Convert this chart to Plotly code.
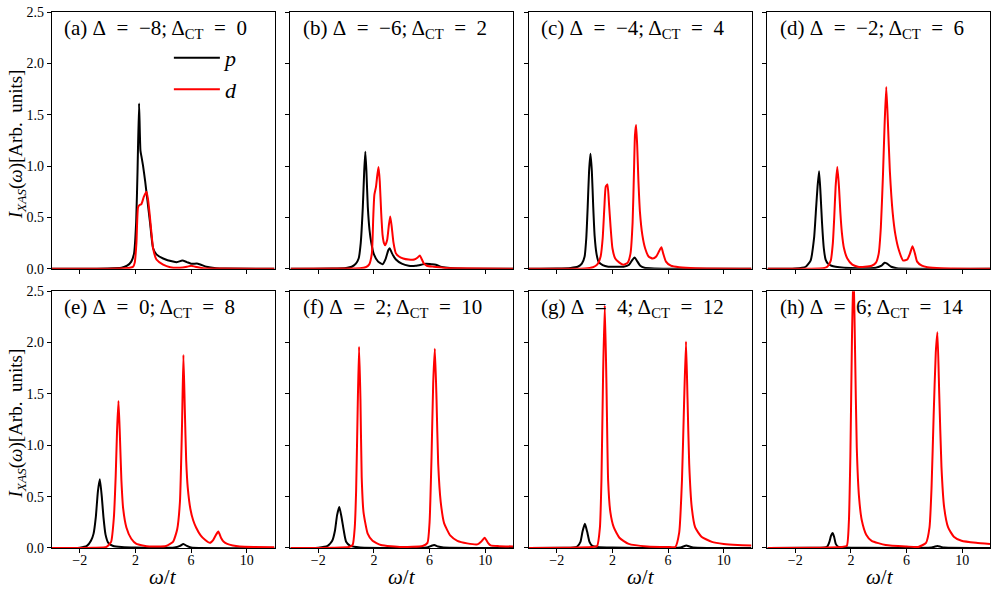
import plotly.graph_objects as go
from plotly.subplots import make_subplots

# ---------------- data ----------------
panel_letters = ["a", "b", "c", "d", "e", "f", "g", "h"]
delta_vals = [-8, -6, -4, -2, 0, 2, 4, 6]
dct_vals = [0, 2, 4, 6, 8, 10, 12, 14]
x_ticks = [-2, 2, 6, 10]
y_ticks = [0.0, 0.5, 1.0, 1.5, 2.0, 2.5]

# panel (a)
a_p_x = [-4, 0, 1.0, 1.4, 1.7, 1.9, 2.05, 2.15, 2.26, 2.36, 2.45, 2.55, 2.7, 2.85, 3.05, 3.27, 3.51, 3.99, 4.7, 5.0, 5.37, 5.7, 6.0, 6.5, 7.1, 7.8, 8.5, 12]
a_p_y = [0, 0.003, 0.01, 0.03, 0.07, 0.15, 0.45, 0.95, 1.61, 1.15, 1.08, 1.0, 0.85, 0.68, 0.45, 0.2, 0.14, 0.1, 0.07, 0.065, 0.08, 0.065, 0.05, 0.05, 0.02, 0.005, 0.002, 0]
a_d_x = [-4, 0, 1.2, 1.6, 1.83, 1.95, 2.07, 2.19, 2.3, 2.43, 2.6, 2.79, 2.9, 3.03, 3.15, 3.27, 3.51, 3.99, 4.5, 5.2, 5.7, 6.0, 6.3, 6.86, 8, 12]
a_d_y = [0, 0.001, 0.005, 0.01, 0.02, 0.06, 0.25, 0.6, 0.62, 0.63, 0.7, 0.75, 0.68, 0.52, 0.35, 0.2, 0.09, 0.04, 0.015, 0.01, 0.02, 0.03, 0.02, 0.005, 0.002, 0]

# panel (b)
b_p_x = [-4, -1, 0, 0.4, 0.7, 0.9, 1.05, 1.2, 1.3, 1.38, 1.46, 1.56, 1.68, 1.8, 2.0, 2.3, 2.62, 2.85, 3.03, 3.13, 3.3, 3.58, 4.0, 4.5, 5.0, 5.4, 5.73, 6.1, 6.45, 6.8, 7.3, 8, 12]
b_p_y = [0, 0.002, 0.008, 0.02, 0.05, 0.1, 0.25, 0.6, 0.95, 1.14, 0.95, 0.6, 0.38, 0.26, 0.14, 0.07, 0.045, 0.1, 0.18, 0.2, 0.15, 0.09, 0.05, 0.03, 0.03, 0.04, 0.05, 0.045, 0.04, 0.02, 0.01, 0.003, 0]
b_d_x = [-4, 0, 1.0, 1.4, 1.65, 1.85, 1.95, 2.03, 2.15, 2.25, 2.33, 2.42, 2.52, 2.62, 2.72, 2.81, 2.95, 3.07, 3.17, 3.27, 3.4, 3.58, 3.8, 4.1, 4.5, 4.9, 5.15, 5.3, 5.45, 5.6, 5.8, 6.3, 7, 8, 12]
b_d_y = [0, 0.002, 0.006, 0.015, 0.04, 0.15, 0.5, 0.72, 0.8, 0.92, 0.99, 0.85, 0.55, 0.33, 0.25, 0.23, 0.28, 0.42, 0.51, 0.42, 0.26, 0.15, 0.12, 0.1, 0.09, 0.09, 0.11, 0.13, 0.09, 0.05, 0.03, 0.02, 0.01, 0.005, 0]

# panel (c)
c_p_x = [-4, -2, -1, -0.5, -0.2, 0.0, 0.12, 0.22, 0.32, 0.42, 0.52, 0.62, 0.72, 0.85, 1.0, 1.3, 1.7, 2.2, 2.8, 3.2, 3.45, 3.6, 3.75, 4.0, 4.3, 5, 12]
c_p_y = [0, 0.002, 0.008, 0.02, 0.05, 0.12, 0.3, 0.6, 0.95, 1.12, 0.95, 0.6, 0.32, 0.15, 0.07, 0.035, 0.02, 0.02, 0.02, 0.04, 0.09, 0.11, 0.08, 0.03, 0.01, 0.003, 0]
c_d_x = [-4, 0, 0.6, 0.9, 1.15, 1.3, 1.42, 1.52, 1.64, 1.76, 1.86, 2.0, 2.2, 2.5, 2.8, 3.1, 3.3, 3.45, 3.55, 3.62, 3.7, 3.78, 3.87, 3.98, 4.15, 4.35, 4.6, 4.9, 5.15, 5.35, 5.52, 5.65, 5.85, 6.2, 6.8, 8, 12]
c_d_y = [0, 0.003, 0.015, 0.04, 0.12, 0.3, 0.6, 0.8, 0.82, 0.62, 0.42, 0.2, 0.1, 0.06, 0.04, 0.06, 0.15, 0.45, 0.95, 1.3, 1.4, 1.2, 0.85, 0.55, 0.33, 0.2, 0.12, 0.1, 0.12, 0.17, 0.21, 0.15, 0.07, 0.03, 0.015, 0.005, 0]

# panel (d)
d_p_x = [-4, -2, -1.25, -0.9, -0.65, -0.5, -0.4, -0.29, -0.18, -0.08, 0.05, 0.18, 0.35, 0.6, 0.9, 1.5, 2.5, 3.8, 4.2, 4.42, 4.6, 4.9, 5.3, 12]
d_p_y = [0, 0.003, 0.02, 0.08, 0.3, 0.6, 0.8, 0.95, 0.72, 0.45, 0.2, 0.09, 0.05, 0.03, 0.02, 0.01, 0.005, 0.01, 0.03, 0.06, 0.05, 0.02, 0.005, 0]
d_d_x = [-4, -1, 0, 0.3, 0.55, 0.7, 0.8, 0.9, 1.02, 1.14, 1.24, 1.35, 1.5, 1.74, 2.1, 2.5, 3.0, 3.5, 3.8, 4.0, 4.15, 4.3, 4.42, 4.54, 4.65, 4.8, 5.0, 5.2, 5.45, 5.76, 6.05, 6.25, 6.43, 6.6, 6.76, 7.1, 7.5, 8.5, 12]
d_d_y = [0, 0.001, 0.005, 0.02, 0.08, 0.25, 0.5, 0.8, 0.99, 0.8, 0.55, 0.35, 0.2, 0.1, 0.04, 0.02, 0.02, 0.03, 0.06, 0.15, 0.4, 0.9, 1.4, 1.77, 1.45, 0.95, 0.55, 0.33, 0.18, 0.08, 0.09, 0.15, 0.22, 0.15, 0.07, 0.03, 0.015, 0.005, 0]

# panel (e)
e_p_x = [-4, -2, -1.49, -1.2, -1.01, -0.85, -0.7, -0.56, -0.42, -0.3, -0.15, 0.05, 0.4, 1.0, 2.0, 4.8, 5.2, 5.45, 5.7, 6.0, 12]
e_p_y = [0, 0.003, 0.02, 0.07, 0.14, 0.3, 0.55, 0.67, 0.5, 0.3, 0.13, 0.05, 0.02, 0.01, 0.005, 0.005, 0.02, 0.04, 0.02, 0.005, 0]
e_d_x = [-4, -1, -0.08, 0.25, 0.45, 0.58, 0.68, 0.78, 0.88, 0.99, 1.12, 1.35, 1.7, 2.07, 3, 4.2, 4.7, 5.0, 5.2, 5.35, 5.45, 5.55, 5.65, 5.76, 5.95, 6.15, 6.36, 6.7, 7.0, 7.35, 7.6, 7.8, 7.96, 8.15, 8.35, 8.6, 9.0, 9.5, 10.5, 12]
e_d_y = [0, 0.002, 0.01, 0.06, 0.3, 0.7, 1.15, 1.43, 1.1, 0.66, 0.38, 0.2, 0.09, 0.04, 0.015, 0.02, 0.06, 0.18, 0.45, 1.2, 1.88, 1.35, 0.85, 0.59, 0.38, 0.27, 0.2, 0.12, 0.08, 0.05, 0.08, 0.13, 0.16, 0.1, 0.06, 0.04, 0.025, 0.015, 0.01, 0.008]

# panel (f)
f_p_x = [-4, -2, -1.33, -1.0, -0.8, -0.65, -0.49, -0.33, -0.17, 0.0, 0.3, 1, 5.8, 6.1, 6.33, 6.6, 7, 12]
f_p_y = [0, 0.003, 0.02, 0.07, 0.17, 0.32, 0.4, 0.3, 0.17, 0.06, 0.02, 0.005, 0.005, 0.02, 0.03, 0.015, 0.005, 0]
f_d_x = [-4, -1, 0.2, 0.47, 0.62, 0.72, 0.83, 0.93, 1.03, 1.12, 1.25, 1.55, 1.9, 2.5, 4, 5.5, 5.85, 6.0, 6.14, 6.26, 6.38, 6.5, 6.62, 6.8, 7.05, 7.5, 8.0, 8.7, 9.44, 9.7, 9.96, 10.2, 10.39, 11, 12]
f_d_y = [0, 0.003, 0.01, 0.03, 0.2, 0.56, 1.35, 1.96, 1.45, 0.69, 0.35, 0.14, 0.07, 0.03, 0.01, 0.02, 0.05, 0.25, 0.88, 1.6, 1.94, 1.45, 0.82, 0.45, 0.24, 0.12, 0.07, 0.045, 0.035, 0.06, 0.1, 0.05, 0.025, 0.018, 0.015]

# panel (g)
g_p_x = [-4, -1.5, -0.8, -0.53, -0.3, -0.15, 0.02, 0.18, 0.35, 0.55, 0.9, 2, 6.9, 7.1, 7.31, 7.55, 7.8, 12]
g_p_y = [0, 0.002, 0.005, 0.015, 0.06, 0.16, 0.235, 0.16, 0.06, 0.02, 0.01, 0.005, 0.005, 0.015, 0.025, 0.015, 0.005, 0]
g_d_x = [-4, -1, 0.5, 0.9, 1.1, 1.21, 1.33, 1.45, 1.57, 1.69, 1.85, 2.1, 2.5, 3.17, 4.5, 6.0, 6.52, 6.8, 7.0, 7.15, 7.29, 7.4, 7.52, 7.7, 7.95, 8.4, 9.15, 10, 11, 12]
g_d_y = [0, 0.003, 0.01, 0.02, 0.2, 0.66, 1.7, 2.36, 1.6, 0.66, 0.35, 0.2, 0.1, 0.04, 0.015, 0.01, 0.01, 0.15, 0.66, 1.4, 2.01, 1.45, 0.82, 0.4, 0.2, 0.11, 0.06, 0.04, 0.03, 0.025]

# panel (h)
h_p_x = [-4, -1, 0.1, 0.3, 0.45, 0.57, 0.68, 0.79, 0.91, 1.1, 1.5, 3, 7.8, 8.0, 8.22, 8.45, 8.7, 12]
h_p_y = [0, 0.002, 0.005, 0.015, 0.06, 0.12, 0.145, 0.11, 0.04, 0.01, 0.005, 0.002, 0.005, 0.012, 0.02, 0.012, 0.005, 0]
h_d_x = [-4, 0, 1.3, 1.7, 1.85, 1.96, 2.07, 2.18, 2.3, 2.42, 2.58, 2.78, 3.1, 3.49, 4.5, 6, 6.84, 7.4, 7.65, 7.8, 7.95, 8.1, 8.22, 8.35, 8.51, 8.7, 8.99, 9.4, 9.95, 11, 12]
h_d_y = [0, 0.003, 0.01, 0.02, 0.25, 0.9, 2.0, 2.75, 1.9, 0.98, 0.5, 0.27, 0.13, 0.07, 0.03, 0.015, 0.01, 0.05, 0.2, 0.6, 1.3, 1.9, 2.1, 1.5, 0.79, 0.4, 0.2, 0.11, 0.07, 0.05, 0.04]

p_series = [(a_p_x, a_p_y), (b_p_x, b_p_y), (c_p_x, c_p_y), (d_p_x, d_p_y),
            (e_p_x, e_p_y), (f_p_x, f_p_y), (g_p_x, g_p_y), (h_p_x, h_p_y)]
d_series = [(a_d_x, a_d_y), (b_d_x, b_d_y), (c_d_x, c_d_y), (d_d_x, d_d_y),
            (e_d_x, e_d_y), (f_d_x, f_d_y), (g_d_x, g_d_y), (h_d_x, h_d_y)]

# ---------------- figure ----------------
W, H = 996, 596
ML, MR, MT, MB = 52, 5, 10, 48
PW, PH = W - ML - MR, H - MT - MB

fig = make_subplots(rows=2, cols=4, shared_xaxes=False, shared_yaxes=False,
                    horizontal_spacing=16 / PW, vertical_spacing=22.5 / PH)

SERIF = "Liberation Serif"
TICKFONT = dict(family=SERIF, size=14, color="black")

for i in range(8):
    r, c = i // 4 + 1, i % 4 + 1
    px_, py_ = p_series[i]
    dx_, dy_ = d_series[i]
    fig.add_trace(go.Scatter(x=px_, y=py_, mode="lines", name="<i>p</i>",
                             line=dict(color="black", width=2, shape="spline", smoothing=0.5),
                             showlegend=(i == 0), hoverinfo="skip"), row=r, col=c)
    fig.add_trace(go.Scatter(x=dx_, y=dy_, mode="lines", name="<i>d</i>",
                             line=dict(color="#ff0000", width=2, shape="spline", smoothing=0.5),
                             showlegend=(i == 0), hoverinfo="skip"), row=r, col=c)
    fig.update_xaxes(range=[-4, 12], tickvals=x_ticks, showticklabels=(r == 2),
                     ticks="outside", ticklen=4, tickwidth=1, tickcolor="black",
                     ticklabelstandoff=-5,
                     showline=True, mirror=True, linecolor="black", linewidth=1.3,
                     showgrid=False, zeroline=False, tickfont=TICKFONT,
                     layer="below traces", row=r, col=c)
    fig.update_yaxes(range=[0, 2.5], tickvals=y_ticks, tickformat=".1f",
                     showticklabels=(c == 1),
                     ticks="outside", ticklen=4, tickwidth=1, tickcolor="black",
                     showline=True, mirror=True, linecolor="black", linewidth=1.3,
                     showgrid=False, zeroline=False, tickfont=TICKFONT,
                     layer="below traces", row=r, col=c)


def fmt(v):
    return ("\u2212" + str(abs(v))) if v < 0 else str(v)


def px2x(px):  # screen pixel -> paper x
    return (px - ML) / PW


def py2y(py):  # screen pixel -> paper y
    return (H - MB - py) / PH


panel_left = [52, 291, 530, 769]
row_top = [10, 290.5]
row_bottom = [267.5, 547.5]
EN = "\u2002"
annotations = []
for i in range(8):
    r, c = i // 4, i % 4
    txt = "(%s) \u0394%s=%s%s;\u2009\u0394<sub>CT</sub>%s=%s%d" % (
        panel_letters[i], EN, EN, fmt(delta_vals[i]), EN, EN, dct_vals[i])
    annotations.append(dict(text=txt, xref="paper", yref="paper",
                            x=px2x(panel_left[c] + 10), y=py2y(row_top[r] + 17),
                            xanchor="left", yanchor="middle", showarrow=False,
                            font=dict(family=SERIF, size=21, color="black")))

ylab = "<i>I</i><sub><i>XAS</i></sub>(<i>\u03c9</i>)[Arb.\u2002units]"
for r in range(2):
    annotations.append(dict(text=ylab, xref="paper", yref="paper",
                            x=px2x(17), y=py2y((row_top[r] + row_bottom[r]) / 2 + 4),
                            xanchor="center", yanchor="middle", textangle=-90, showarrow=False,
                            font=dict(family=SERIF, size=19, color="black")))
for c in range(4):
    annotations.append(dict(text="<i>\u03c9</i>/<i>t</i>", xref="paper", yref="paper",
                            x=px2x(panel_left[c] + 111.5), y=py2y(577),
                            xanchor="center", yanchor="middle", showarrow=False,
                            font=dict(family=SERIF, size=21, color="black")))

fig.update_layout(
    width=W, height=H,
    margin=dict(l=ML, r=MR, t=MT, b=MB, pad=0),
    paper_bgcolor="white", plot_bgcolor="white",
    font=dict(family=SERIF, color="black"),
    annotations=annotations,
    showlegend=True,
    legend=dict(x=px2x(169), y=py2y(35), xanchor="left", yanchor="top",
                bgcolor="rgba(0,0,0,0)", borderwidth=0, itemwidth=46,
                font=dict(family=SERIF, size=22, color="black")),
)

fig.write_html("out.html", config={"displayModeBar": False},
               post_script="document.body.style.margin='0px';")
